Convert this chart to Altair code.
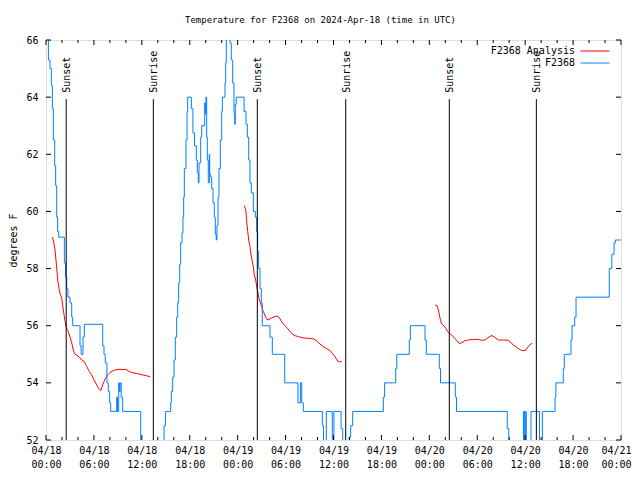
import altair as alt
import pandas as pd

# ---------------- data (hours since 2024-04-18 00:00 UTC, degrees F) ----------------
obs_hours = [0.06, 0.30, 0.50, 0.67, 0.80, 0.92, 1.09, 1.21, 1.34, 1.46, 1.59, 2.30, 2.45, 2.60, 2.75,
             3.00, 3.22, 3.34, 4.26, 4.40, 4.63, 4.80, 7.10, 7.26, 7.42, 7.63, 7.80, 7.97, 8.10, 8.85,
             8.95, 9.10, 9.20, 9.28, 9.42, 9.60, 11.86, 14.78, 14.95, 15.61, 15.69, 15.86, 16.03, 16.19,
             16.36, 16.49, 16.61, 16.74, 16.86, 17.03, 17.15, 17.24, 17.32, 17.53, 17.66, 17.74, 18.20,
             18.40, 18.60, 18.82, 18.95, 19.07, 19.16, 19.37, 19.50, 19.87, 19.97, 20.03, 20.12, 20.20,
             20.32, 20.45, 20.50, 20.62, 20.75, 20.91, 21.07, 21.20, 21.32, 21.41, 21.54, 21.66, 21.83,
             22.00, 22.08, 22.41, 22.50, 22.58, 23.04, 23.20, 23.38, 23.54, 23.63, 23.70, 23.83, 24.80,
             25.04, 25.21, 25.38, 25.54, 25.71, 25.96, 26.21, 26.38, 26.51, 26.63, 26.80, 26.96, 27.08,
             28.05, 28.34, 29.89, 31.55, 31.85, 32.02, 32.22, 34.60, 34.75, 35.10, 35.85, 36.05, 36.95,
             37.15, 37.95, 38.15, 38.40, 42.24, 42.40, 43.79, 43.92, 45.49, 45.62, 47.46, 47.62, 49.25,
             49.40, 51.25, 51.40, 57.76, 57.95, 59.78, 59.90, 60.02, 60.14, 60.73, 61.80, 62.15, 63.74,
             63.85, 64.78, 64.90, 65.74, 65.87, 66.20, 66.37, 70.53, 70.85, 71.13, 71.29, 72.00]
obs_temps = [66.3, 65.3, 65.0, 64.4, 63.6, 62.5, 61.6, 60.9, 59.8, 59.3, 59.1, 58.2, 57.7, 57.3, 57.0,
             56.8, 56.3, 56.0, 55.3, 55.0, 55.6, 56.05, 55.3, 55.0, 54.7, 54.0, 53.7, 53.3, 53.0, 53.5,
             53.0, 54.0, 53.7, 54.0, 53.5, 53.0, 51.5, 52.5, 53.0, 53.3, 53.7, 54.2, 54.8, 55.6,
             56.3, 56.8, 57.5, 58.15, 58.9, 59.26, 59.8, 60.5, 61.5, 62.5, 63.5, 64.0, 63.6,
             62.75, 62.3, 61.8, 61.35, 61.0, 61.7, 62.6, 63.0, 63.8, 63.4, 64.0, 62.6, 61.8,
             61.0, 62.0, 61.3, 61.2, 60.8, 60.3, 59.8, 59.2, 59.0, 59.5, 60.5, 61.5, 62.5,
             63.5, 64.0, 64.5, 65.2, 67.0, 65.9, 65.3, 64.5, 63.45, 63.05, 63.75, 64.0, 63.5,
             63.05, 62.6, 61.8, 61.0, 60.65, 60.0, 59.8, 59.3, 58.6, 58.0, 57.3, 56.8, 56.0,
             55.6, 55.0, 54.0, 53.3, 54.0, 53.3, 53.0, 52.5, 51.5, 53.0, 51.5, 53.0, 52.4,
             51.5, 52.1, 52.5, 53.0, 53.5, 54.0, 54.5, 55.0, 55.5, 56.0, 55.5, 55.0, 54.5,
             54.0, 53.5, 53.0, 52.4, 51.5, 53.0, 51.5, 53.0, 51.5, 53.0, 51.5, 53.0, 53.5,
             54.0, 54.5, 55.0, 55.5, 56.0, 56.3, 57.0, 58.0, 58.5, 58.9, 59.0, 59.0]

ana1_hours = [0.79, 0.91, 1.13, 1.25, 1.47, 1.63, 1.79, 1.97, 2.09, 2.25, 2.42, 2.59, 2.79, 3.01, 3.22,
              3.42, 3.63, 3.84, 4.17, 4.47, 4.80, 5.10, 5.42, 5.72, 6.01, 6.35, 6.60, 6.85, 7.10, 7.39,
              7.73, 8.01, 8.43, 8.85, 9.48, 10.02, 10.31, 10.73, 11.36, 11.77, 12.40, 13.02]
ana1_temps = [59.1, 59.0, 58.65, 58.3, 57.6, 57.3, 57.1, 56.96, 56.7, 56.4, 56.1, 55.9, 55.8, 55.6, 55.4,
              55.15, 55.0, 54.97, 54.9, 54.8, 54.74, 54.57, 54.4, 54.28, 54.1, 53.93, 53.8, 53.73, 53.93, 54.13,
              54.28, 54.36, 54.43, 54.47, 54.47, 54.47, 54.42, 54.36, 54.33, 54.3, 54.26, 54.22]

ana2_hours = [24.83, 25.01, 25.13, 25.26, 25.38, 25.54, 25.67, 25.80, 25.96, 26.08, 26.26, 26.38, 26.51,
              26.63, 26.80, 27.01, 27.21, 27.51, 27.76, 28.05, 28.46, 28.89, 29.21, 29.51, 29.84, 30.14,
              30.47, 30.77, 31.18, 31.59, 32.22, 32.84, 33.47, 33.90, 34.31, 34.72, 35.15, 35.56, 35.98,
              36.31, 36.60, 37.03]
ana2_temps = [60.2, 60.07, 59.64, 59.3, 59.0, 58.77, 58.47, 58.3, 58.07, 57.78, 57.6, 57.37, 57.2,
              57.0, 56.84, 56.67, 56.5, 56.3, 56.2, 56.24, 56.3, 56.34, 56.28, 56.14, 56.02, 55.94,
              55.83, 55.73, 55.65, 55.62, 55.57, 55.56, 55.54, 55.47, 55.36, 55.27, 55.2, 55.13, 55.0,
              54.86, 54.74, 54.74]

ana3_hours = [48.71, 49.00, 49.17, 49.34, 49.55, 49.84, 50.09, 50.30, 50.50, 50.80, 51.09, 51.43, 51.75,
              52.05, 52.47, 52.88, 53.51, 54.13, 54.56, 54.97, 55.38, 55.81, 56.22, 56.64, 57.26, 57.89,
              58.31, 58.73, 59.14, 59.57, 59.85, 60.10, 60.39, 60.69, 60.89]
ana3_temps = [56.73, 56.69, 56.5, 56.26, 56.06, 55.99, 55.9, 55.8, 55.73, 55.67, 55.59, 55.48, 55.38,
              55.4, 55.48, 55.5, 55.52, 55.52, 55.49, 55.5, 55.59, 55.66, 55.59, 55.5, 55.5, 55.49,
              55.38, 55.29, 55.2, 55.13, 55.13, 55.15, 55.27, 55.36, 55.38]

event_hours = [2.53, 13.44, 26.46, 37.53, 50.50, 61.40]
event_labels = ["Sunset", "Sunrise", "Sunset", "Sunrise", "Sunset", "Sunrise"]
event_line_bottom = 52
event_line_top = 63.93
event_label_at = 64.15

series_names = ["F2368 Analysis", "F2368"]
series_colors = ["#ff0000", "#0080ff"]

x_major = [0, 6, 12, 18, 24, 30, 36, 42, 48, 54, 60, 66, 72]
x_minor = [2, 4, 8, 10, 14, 16, 20, 22, 26, 28, 32, 34, 38, 40, 44, 46, 50, 52, 56, 58, 62, 64, 68, 70]
x_label_days = ["04/18", "04/18", "04/18", "04/18", "04/19", "04/19", "04/19", "04/19",
                "04/20", "04/20", "04/20", "04/20", "04/21"]
x_label_times = ["00:00", "06:00", "12:00", "18:00", "00:00", "06:00", "12:00", "18:00",
                 "00:00", "06:00", "12:00", "18:00", "00:00"]
y_ticks = [52, 54, 56, 58, 60, 62, 64, 66]

# ---------------- tables ----------------
ana_df = pd.concat([
    pd.DataFrame({"hour": h, "temp": t, "seg": i, "series": series_names[0]})
    for i, (h, t) in enumerate([(ana1_hours, ana1_temps), (ana2_hours, ana2_temps), (ana3_hours, ana3_temps)])
])
obs_df = pd.DataFrame({"hour": obs_hours, "temp": obs_temps, "series": series_names[1]})
ev_df = pd.DataFrame({"hour": event_hours, "label": event_labels})
maj_df = pd.DataFrame({"hour": x_major})
min_df = pd.DataFrame({"hour": x_minor})
yt_df = pd.DataFrame({"temp": y_ticks})

FONT = "DejaVu Sans Mono"
W, H = 575, 400
MAJ, MIN = 5, 3

label_arr = "[" + ",".join(f"['{d}','{t}']" for d, t in zip(x_label_days, x_label_times)) + "]"
idx_arr = "[" + ",".join(str(v) for v in x_major) + "]"

xscale = alt.Scale(domain=[0, 72], nice=False, zero=False)
yscale = alt.Scale(domain=[52, 66], nice=False, zero=False)

X = alt.X("hour:Q", scale=xscale, title=None,
          axis=alt.Axis(values=x_major, labelExpr=f"{label_arr}[indexof({idx_arr}, datum.value)]",
                        labelPadding=5, labelLineHeight=14, labelFlush=False, labelOverlap=False,
                        labelOffset={"condition": {"test": f"datum.value == {x_major[-1]}", "value": -5},
                                     "value": 0},
                        labelBaseline="top", labelFont=FONT, labelFontSize=10, labelColor="black",
                        ticks=False, domain=False, grid=False))
Y = alt.Y("temp:Q", scale=yscale,
          axis=alt.Axis(values=y_ticks, title="degrees F", labelFont=FONT, labelFontSize=10,
                        labelColor="black", labelPadding=8, ticks=False, domain=False, grid=False,
                        titleFont=FONT, titleFontSize=10, titleFontWeight="normal", titleColor="black",
                        titleX=-33, titleY=H / 2, titleAngle=270, titleAlign="center",
                        titleBaseline="middle"))

# legend: label text to the left of the line sample (gnuplot style) via an offset line-path symbol
color = alt.Color("series:N", scale=alt.Scale(domain=series_names, range=series_colors),
                  legend=alt.Legend(title=None, orient="none", legendX=519, legendY=6,
                                    symbolType="M3.5,0H13.2", symbolSize=36, symbolStrokeWidth=1,
                                    symbolOffset=0, labelAlign="right", labelOffset=0,
                                    labelFont=FONT, labelFontSize=10, labelColor="black",
                                    rowPadding=2, padding=0, offset=0))

ana = alt.Chart(ana_df).mark_line(clip=True, strokeWidth=1).encode(x=X, y=Y, color=color, detail="seg:N")
obs = alt.Chart(obs_df).mark_line(clip=True, strokeWidth=1, interpolate="step-after").encode(x=X, y=Y, color=color)

ev_rules = alt.Chart(ev_df).mark_rule(color="black", strokeWidth=1).encode(
    x=X, y=alt.datum(event_line_bottom), y2=alt.datum(event_line_top))
ev_text = alt.Chart(ev_df).mark_text(angle=270, align="left", baseline="middle", font=FONT,
                                     fontSize=10, color="black", dy=1).encode(
    x=X, y=alt.datum(event_label_at), text="label:N")

tick_style = dict(color="black", strokeWidth=1)
t1 = alt.Chart(maj_df).mark_rule(**tick_style).encode(x=X, y=alt.value(H), y2=alt.value(H - MAJ))
t2 = alt.Chart(maj_df).mark_rule(**tick_style).encode(x=X, y=alt.value(0), y2=alt.value(MAJ))
t3 = alt.Chart(min_df).mark_rule(**tick_style).encode(x=X, y=alt.value(H), y2=alt.value(H - MIN))
t4 = alt.Chart(min_df).mark_rule(**tick_style).encode(x=X, y=alt.value(0), y2=alt.value(MIN))
t5 = alt.Chart(yt_df).mark_rule(**tick_style).encode(y=Y, x=alt.value(0), x2=alt.value(MAJ))
t6 = alt.Chart(yt_df).mark_rule(**tick_style).encode(y=Y, x=alt.value(W), x2=alt.value(W - MAJ))

chart = alt.layer(ana, obs, ev_rules, ev_text, t1, t2, t3, t4, t5, t6).properties(
    width=W, height=H,
    title=alt.TitleParams(text="Temperature for F2368 on 2024-Apr-18 (time in UTC)", font=FONT,
                          fontSize=9, fontWeight="normal", color="black", anchor="middle",
                          dx=-13, offset=10),
    autosize=alt.AutoSizeParams(type="none"),
    padding={"left": 38, "top": 32, "right": 11, "bottom": 30},
).configure_view(stroke="black", strokeWidth=1).configure(background="white")

chart.save("out.html", embed_options={"renderer": "svg", "actions": False})
